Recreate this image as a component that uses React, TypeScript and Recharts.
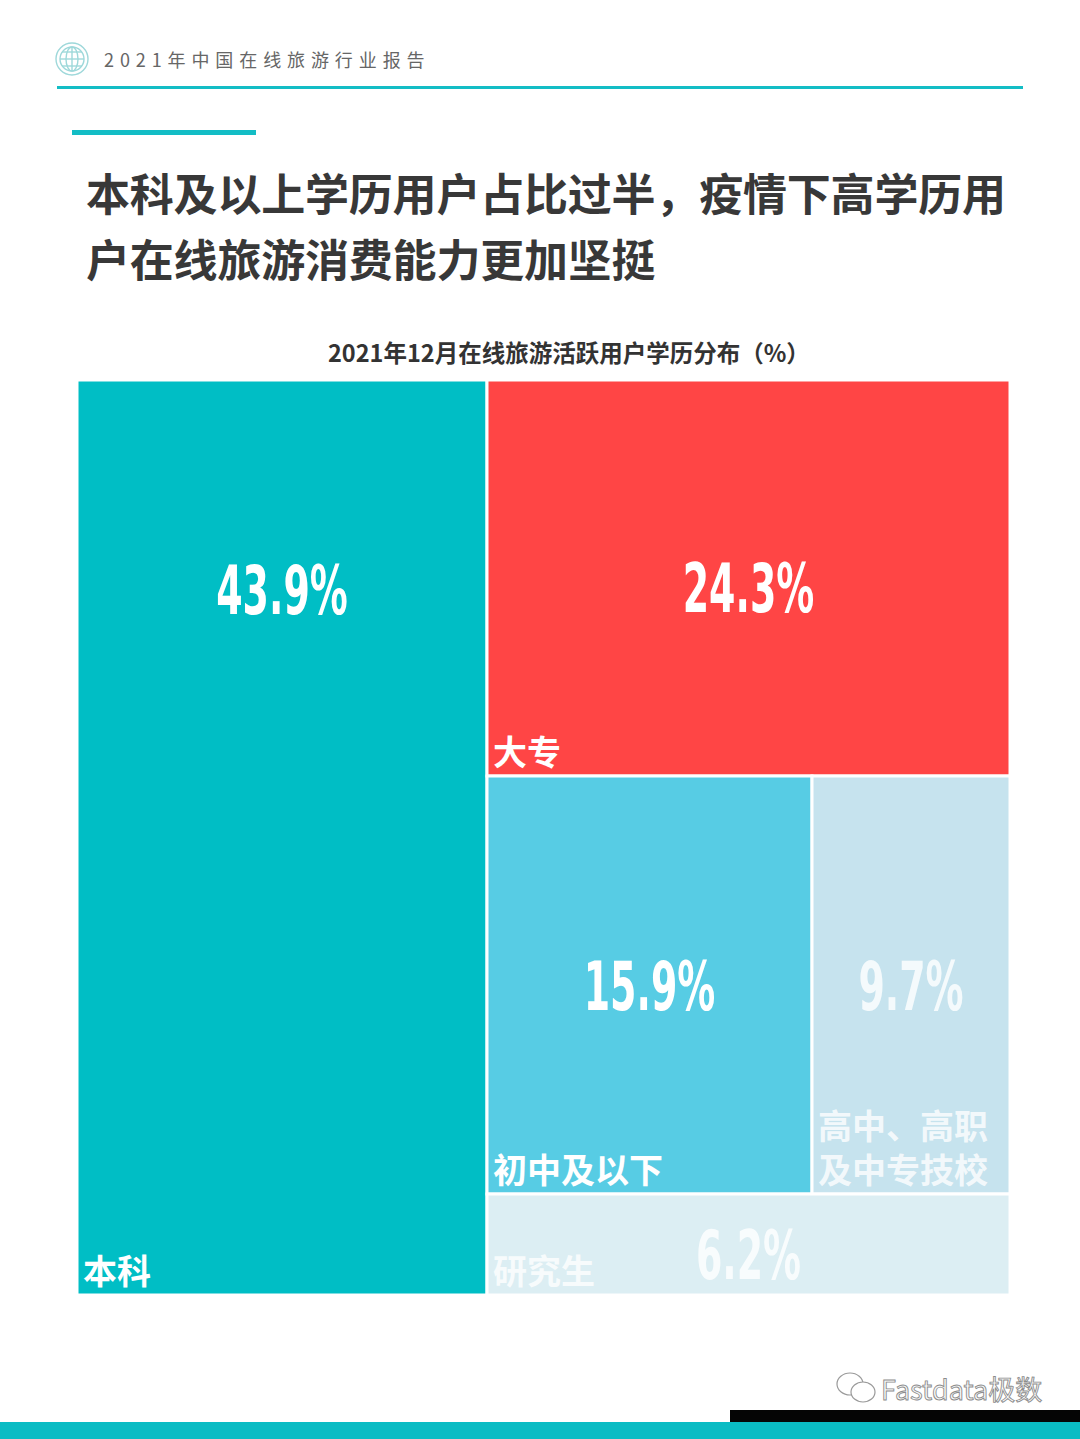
import React from 'react';
import { Treemap } from 'recharts';

const categories = ['本科', '大专', '初中及以下', '高中、高职及中专技校', '研究生'];
const shares = [43.9, 24.3, 15.9, 9.7, 6.2];

const cellColors = ['#00BEC5', '#FF4545', '#57CCE4', '#C6E3EE', '#DCEEF3'];
const textColors = ['#FFFFFF', '#FFFFFF', '#FFFFFF', 'rgba(255,255,255,0.8)', 'rgba(255,255,255,0.8)'];

const TEAL = '#13BDC5';

const leaf = (i: number) => ({ name: categories[i], value: shares[i], idx: i, leaf: true });

// grouping only steers squarify into the sliced arrangement of the original
const treeData = [
  leaf(0),
  {
    name: 'rest',
    children: [
      { name: 'upper', children: [leaf(1), { name: 'mid', children: [leaf(2), leaf(3)] }] },
      leaf(4),
    ],
  },
];

const splitLabel = (s: string): string[] => (s.length > 6 ? [s.slice(0, 5), s.slice(5)] : [s]);

const CellContent = (props: any) => {
  const { x, y, width, height, idx, leaf: isLeaf } = props;
  if (!isLeaf) return null;
  const valueY = y + Math.min(height / 2 + 10, 210);
  const lines = splitLabel(categories[idx]);
  const txt = textColors[idx];
  return (
    <g>
      <rect x={x} y={y} width={width} height={height} fill={cellColors[idx]} stroke="#fff" strokeWidth={3} />
      <g transform={`translate(${x + width / 2}, ${valueY}) scale(0.62, 1)`}>
        <text
          x={0}
          y={0}
          dy={24}
          textAnchor="middle"
          fill={txt}
          fontSize={68}
          fontWeight={700}
          fontFamily="'Liberation Sans Narrow', 'DejaVu Sans Condensed', sans-serif"
        >
          {shares[idx].toFixed(1)}%
        </text>
      </g>
      <text
        x={x + 6}
        y={y + height - 11 - (lines.length - 1) * 44}
        fill={txt}
        fontSize={34}
        fontWeight={700}
        fontFamily="'Noto Sans CJK SC', sans-serif"
      >
        {lines.map((line, k) => (
          <tspan key={k} x={x + 6} dy={k === 0 ? 0 : 44}>
            {line}
          </tspan>
        ))}
      </text>
    </g>
  );
};

const App = () => {
  return (
    <div
      style={{
        position: 'absolute',
        left: 0,
        top: 0,
        width: 1080,
        height: 1439,
        background: '#fff',
        overflow: 'hidden',
        fontFamily: "'Noto Sans CJK SC', sans-serif",
      }}
    >
      <svg width={1080} height={1439} style={{ position: 'absolute', left: 0, top: 0 }}>
        {/* header logo */}
        <g stroke="#9ED8DA" strokeWidth={1.4} fill="none">
          <circle cx={72} cy={59} r={16} />
          <circle cx={72} cy={59} r={12} />
          <ellipse cx={72} cy={59} rx={6} ry={12} />
          <line x1={60} y1={59} x2={84} y2={59} />
          <line x1={72} y1={47} x2={72} y2={71} />
          <line x1={62} y1={52} x2={82} y2={52} />
          <line x1={62} y1={66} x2={82} y2={66} />
        </g>
        <rect x={57} y={86} width={966} height={3} fill={TEAL} />
        <rect x={72} y={130} width={184} height={5} fill={TEAL} />
        {/* footer */}
        <rect x={730} y={1410} width={350} height={13} fill="#050505" />
        <rect x={0} y={1422} width={1080} height={17} fill="#0ABCC4" />
        <g stroke="#9a9a9a" strokeWidth={1.2} fill="#fff">
          <ellipse cx={850} cy={1384} rx={13} ry={11} />
          <ellipse cx={863} cy={1392} rx={12} ry={10} />
        </g>
        <text
          x={881}
          y={1400}
          fontSize={27}
          fill="#fafafa"
          stroke="#8c8c8c"
          strokeWidth={0.9}
          fontFamily="'Noto Sans CJK SC', sans-serif"
        >
          Fastdata极数
        </text>
      </svg>

      <div
        style={{
          position: 'absolute',
          left: 104,
          top: 47,
          fontSize: 18,
          lineHeight: '24px',
          letterSpacing: 5.9,
          color: '#666',
          whiteSpace: 'nowrap',
        }}
      >
        2021年中国在线旅游行业报告
      </div>

      <div
        style={{
          position: 'absolute',
          left: 86,
          top: 159,
          width: 960,
          fontSize: 44,
          lineHeight: '66px',
          fontWeight: 700,
          letterSpacing: -0.2,
          color: '#383838',
        }}
      >
        <div style={{ whiteSpace: 'nowrap' }}>本科及以上学历用户占比过半，疫情下高学历用</div>
        <div style={{ whiteSpace: 'nowrap' }}>户在线旅游消费能力更加坚挺</div>
      </div>

      <div
        style={{
          position: 'absolute',
          left: 328,
          top: 337,
          fontSize: 23.5,
          lineHeight: '30px',
          fontWeight: 700,
          color: '#333',
          whiteSpace: 'nowrap',
        }}
      >
        2021年12月在线旅游活跃用户学历分布（%）
      </div>

      <div style={{ position: 'absolute', left: 77, top: 380 }}>
        <Treemap
          width={933}
          height={915}
          data={treeData}
          dataKey="value"
          nameKey="name"
          aspectRatio={0.8}
          isAnimationActive={false}
          content={<CellContent />}
        />
      </div>
    </div>
  );
};

export default App;
